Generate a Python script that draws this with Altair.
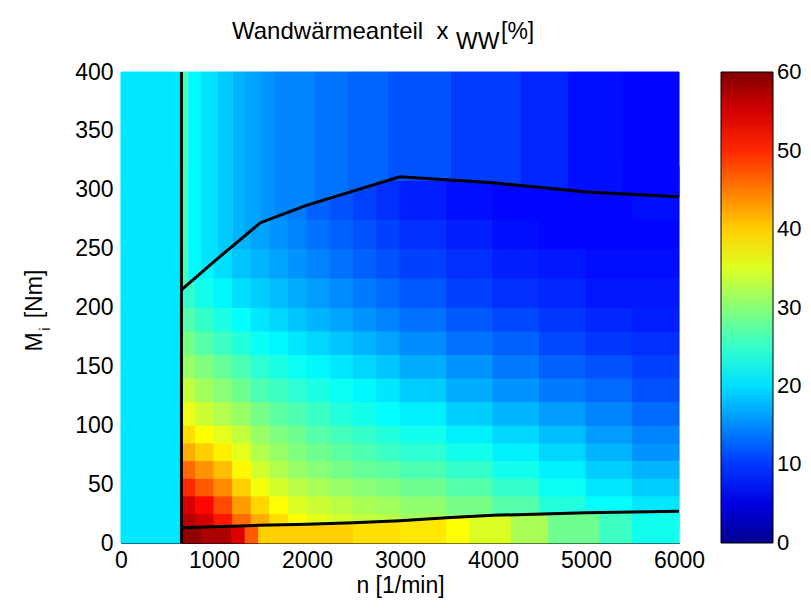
import altair as alt
import pandas as pd

# ---------------- data ----------------
# idle strip left of the idle speed line (uniform value)
strip_n = [0, 650]
strip_value = 20.5

# middle field: cell edges and values (per speed column, torque bands low->high)
n_edges = [650, 800, 1000, 1200, 1400, 1600, 1800, 2000, 2250, 2500, 2750,
           3000, 3500, 4000, 4500, 5000, 5500, 6000]
m_edges = [10, 25, 40, 55, 70, 85, 100, 120, 140, 160, 180, 200, 225, 250,
           275, 300, 320]
col_values = [
    [57, 55, 50, 46, 42, 39, 36, 33.5, 31, 29, 27, 25, 24, 23, 22, 22],
    [55, 52, 47, 43.5, 40, 37, 34, 31.5, 29.5, 27, 25, 23, 21.5, 21, 21, 21],
    [51, 48, 44, 41, 38, 35.5, 32.5, 30, 28, 25.5, 23.5, 21.5, 20, 19.5, 19, 19],
    [46, 43, 40, 37.5, 35.5, 33.5, 31, 28.5, 26.5, 24, 22, 20, 18.5, 17.5, 17, 17],
    [42, 39.5, 36.5, 34.5, 32.5, 31, 29, 26.5, 24.5, 22.5, 20.5, 19, 17.5, 16.5, 16, 16],
    [39, 37, 34.5, 32.5, 31, 29.5, 27.5, 25.5, 23.5, 21.5, 19.5, 18, 16.5, 15.5, 15, 15],
    [37, 35, 33, 31, 29.5, 28.5, 26.5, 24.5, 22.5, 20.5, 18.5, 17, 15.5, 14.5, 14, 14],
    [35.5, 34, 32, 30, 28.5, 27, 25.5, 23.5, 21.5, 19.5, 17.5, 16, 14.5, 13.5, 12.5, 12.5],
    [34.5, 33, 31, 29, 27.5, 26, 24, 22.5, 20.5, 18.5, 16.5, 15, 13.5, 12.5, 11.5, 11.5],
    [33.5, 32, 30, 28, 26.5, 25, 23, 21.5, 19.5, 17.5, 15.5, 14, 12.5, 11.5, 10.5, 10.5],
    [33, 31.5, 29.5, 27.5, 25.5, 24, 22, 20.5, 18.5, 16.5, 14.5, 13, 11.5, 10.5, 9.5, 9.5],
    [32, 30.5, 28.5, 26.5, 24.5, 23, 21, 19, 17, 15, 13.5, 12, 10.5, 9.5, 8.5, 8.5],
    [30.5, 29, 27, 25, 23, 21, 19, 17, 15.5, 13.5, 12, 10.5, 9.5, 8.5, 7.5, 7.5],
    [28, 27, 25, 23, 21, 19.5, 17.5, 15.5, 14, 12.5, 11, 9.5, 8.5, 7.5, 7, 7],
    [25, 24, 22.5, 21, 19.5, 18, 16, 14, 12.5, 11, 10, 9, 8, 7, 7, 7],
    [22.5, 22, 20.5, 19, 17.5, 16, 14.5, 13, 11.5, 10, 9, 8, 7.5, 7, 7, 7],
    [21, 20.5, 19, 17.5, 15.5, 14.5, 13, 11.5, 10.5, 9.5, 8.5, 8, 7.5, 7, 7.5, 7.5],
]

# region above the full-load line: vertical stripes
top_edges = [650, 730, 870, 1050, 1210, 1335, 1515, 1660, 2090, 2445, 2875,
             3555, 4305, 4810, 5400, 6000]
top_bound = [215, 220.5, 230, 242.3, 253, 261, 272.5, 277, 289, 297.7, 308,
             308.2, 303.6, 299.5, 296.4, 294]
top_values = [26, 21.6, 20.2, 18.8, 17.4, 16.4, 15.5, 14.6, 13.6, 12.7, 11.7,
              10.3, 8.9, 7.5, 7.0]

# region below the low-load line: vertical stripes
bot_edges = [650, 870, 1190, 1335, 1480, 2500, 3000, 3500, 3750, 4200, 4600,
             5150, 5500, 6000]
bot_bound = [13, 13.5, 14.3, 14.6, 15, 17.3, 19, 21.5, 22.5, 24, 24.8, 25.9,
             26.3, 27]
bot_values = [59, 57.5, 54.5, 47, 40, 39, 38.5, 37, 35, 32, 28.5, 25.5, 23]

# black boundary lines
idle_n = [650, 650]
idle_m = [0, 400]
full_n = [650, 1000, 1500, 2000, 3000, 4000, 5000, 6000]
full_m = [215, 239, 272, 287, 311, 306, 298, 294]
low_n = [650, 1000, 1500, 2000, 2500, 3000, 3500, 4000, 5000, 6000]
low_m = [13, 13.8, 15, 16, 17.3, 19, 21.5, 23.5, 25.7, 27]

x_ticks = [0, 1000, 2000, 3000, 4000, 5000, 6000]
y_ticks = [0, 50, 100, 150, 200, 250, 300, 350, 400]
cbar_ticks = [0, 10, 20, 30, 40, 50, 60]

# ---------------- tables ----------------
cells = [dict(n0=strip_n[0], n1=strip_n[1], m0=0, m1=400, v=strip_value)]
for j in range(len(n_edges) - 1):
    for i in range(len(m_edges) - 1):
        cells.append(dict(n0=n_edges[j], n1=n_edges[j + 1], m0=m_edges[i],
                          m1=m_edges[i + 1], v=col_values[j][i]))
cells_df = pd.DataFrame(cells)
cells_df["vs"] = cells_df["v"]

def band_table(edges, bounds, values, lim):
    rows = []
    for k, v in enumerate(values):
        rows.append(dict(k=k, n=edges[k], m=bounds[k], lim=lim, v=v, vs=v))
        rows.append(dict(k=k, n=edges[k + 1], m=bounds[k + 1], lim=lim, v=v, vs=v))
    return pd.DataFrame(rows)

top_df = band_table(top_edges, top_bound, top_values, 400)
bot_df = band_table(bot_edges, bot_bound, bot_values, 0)

lines_df = pd.DataFrame(
    [dict(g="idle", n=a, m=b, o=i) for i, (a, b) in enumerate(zip(idle_n, idle_m))]
    + [dict(g="full", n=a, m=b, o=i) for i, (a, b) in enumerate(zip(full_n, full_m))]
    + [dict(g="low", n=a, m=b, o=i) for i, (a, b) in enumerate(zip(low_n, low_m))]
)

# ---------------- scales ----------------
FONT = "Liberation Sans"
FS = 23
# end stops nudged a hair past 0/60 so the colorbar labels sit centred on the ends
JET_DOMAIN = [-0.05, 6.7, 21.9, 37.1, 52.4, 60.05]
JET_RANGE = ["#00008f", "#0000ff", "#00ffff", "#ffff00", "#ff0000", "#800000"]
jet = alt.Scale(domain=JET_DOMAIN, range=JET_RANGE, interpolate="rgb")
jet_s = alt.Scale(domain=JET_DOMAIN, range=JET_RANGE, interpolate="rgb")
xs = alt.Scale(domain=[0, 6000], nice=False, zero=False)
ys = alt.Scale(domain=[0, 400], nice=False, zero=False)

x_axis = alt.Axis(values=x_ticks, format="d", title="n [1/min]", labelFontSize=FS,
                  titleFontSize=FS, titleFontWeight="normal", labelFont=FONT,
                  titleFont=FONT, ticks=False, grid=False, domainColor="black",
                  labelColor="black", titleColor="black", labelPadding=6,
                  titlePadding=2, labelFlush=False)
y_axis = alt.Axis(values=y_ticks, format="d", title=None, labelFontSize=FS,
                  labelFont=FONT, ticks=False, grid=False, domainColor="black",
                  labelColor="black", labelPadding=8, labelFlush=False)

heat = alt.Chart(cells_df).mark_rect(strokeWidth=1).encode(
    x=alt.X("n0:Q", scale=xs, axis=x_axis),
    x2="n1:Q",
    y=alt.Y("m0:Q", scale=ys, axis=y_axis),
    y2="m1:Q",
    color=alt.Color("v:Q", scale=jet, legend=alt.Legend(
        type="gradient", orient="none", legendX=600, legendY=0,
        direction="vertical", title=None,
        gradientLength=471, gradientThickness=52, values=cbar_ticks,
        labelFontSize=22, labelFont=FONT, labelColor="black", labelOffset=4,
        gradientStrokeColor="black", gradientStrokeWidth=1, labelOverlap=False)),
    stroke=alt.Stroke("vs:Q", scale=jet_s, legend=None),
)

def band(df):
    return alt.Chart(df).mark_area(interpolate="linear", strokeWidth=1).encode(
        x=alt.X("n:Q", scale=xs),
        y=alt.Y("m:Q", scale=ys),
        y2="lim:Q",
        detail="k:N",
        color=alt.Color("v:Q", scale=jet, legend=None),
        stroke=alt.Stroke("vs:Q", scale=jet_s, legend=None),
    )

top_area = band(top_df)
bot_area = band(bot_df)

lines = alt.Chart(lines_df).mark_line(color="black", strokeWidth=3).encode(
    x=alt.X("n:Q", scale=xs),
    y=alt.Y("m:Q", scale=ys),
    detail="g:N",
    order="o:Q",
)

one_df = pd.DataFrame([{"t": 1}])
def txt(text, x, y, size=FS, angle=0, align="left", baseline="alphabetic"):
    return alt.Chart(one_df).mark_text(
        text=text, font=FONT, fontSize=size, color="black", angle=angle,
        align=align, baseline=baseline).encode(x=alt.value(x), y=alt.value(y))

title_parts = (
    txt("Wandwärmeanteil\u00a0\u00a0x", 111, -33, size=24)
    + txt("WW", 335, -23)
    + txt("[%]", 380, -33)
)
ylab_parts = (
    txt("M", -79, 270, angle=270, align="center")
    + txt("i", -71, 257, size=15, angle=270, align="center")
    + txt("[Nm]", -79, 222, angle=270, align="center")
)

chart = alt.layer(heat, top_area, bot_area, lines, title_parts, ylab_parts).properties(
    width=558, height=471,
    autosize=alt.AutoSizeParams(type="none"),
    padding={"left": 113, "top": 64, "right": 124, "bottom": 59},
).resolve_legend(stroke="independent").configure_view(
    stroke="black", strokeWidth=1.5).configure(background="white")

chart.save("out.html", embed_options={"renderer": "svg", "actions": False})
